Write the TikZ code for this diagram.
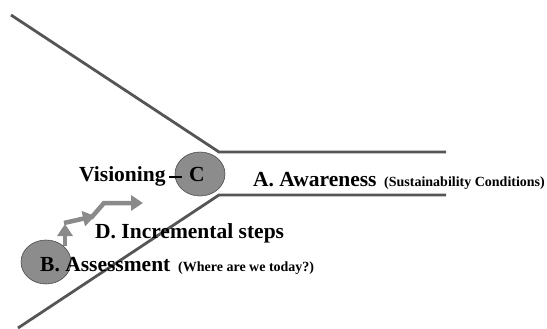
\documentclass[tikz,border=0pt]{standalone}
\usepackage{fontspec}
\setmainfont{Liberation Serif}
\usetikzlibrary{shapes.geometric,arrows.meta}
\definecolor{linegray}{HTML}{555555}
\definecolor{circgray}{HTML}{8C8C8C}
\definecolor{arrgray}{HTML}{8A8A8A}
\tikzset{
  funnel/.style={draw=linegray, line width=2.8pt},
  blob/.style={ellipse, fill=circgray, draw=black!70, line width=0.6pt, minimum width=50pt, minimum height=44pt, inner sep=0pt},
  bigtxt/.style={anchor=base west, inner sep=0pt, font=\bfseries\fontsize{21.5}{24}\selectfont},
  smalltxt/.style={anchor=base west, inner sep=0pt, font=\bfseries\fontsize{14}{16}\selectfont},
  steparrow/.style={draw=arrgray, line width=4.5pt, -{Triangle[width=15pt,length=12pt]}},
}
\begin{document}
\begin{tikzpicture}[x=1pt,y=-1pt]
\useasboundingbox (0,0) rectangle (547,329);
% funnel lines
\coordinate (u0) at (11,15);
\coordinate (u1) at (219,152);
\coordinate (u2) at (446,152);
\coordinate (l0) at (18,328);
\coordinate (l1) at (219,195);
\coordinate (l2) at (446,195);
\draw[funnel] (u0) -- (u1) -- (u2);
\draw[funnel] (l0) -- (l1) -- (l2);
% circles
\node[blob] (Cc) at (200,174) {};
\node[blob] (Bc) at (46,262) {};
% step arrows
\coordinate (a0) at (65,246);
\coordinate (a1) at (65,224);
\coordinate (b0) at (64,223);
\coordinate (b1) at (95,216);
\coordinate (c0) at (91,218);
\coordinate (c1) at (104,203);
\coordinate (c2) at (143,203);
\draw[steparrow] (a0) -- (a1);
\draw[steparrow] (b0) -- (b1);
\draw[steparrow] (c0) -- (c1) -- (c2);
% texts
\node[bigtxt] (vis) at (79,182) {Visioning};
\coordinate (d0) at (169,177);
\coordinate (d1) at (182,177);
\draw[black, line width=2.5pt] (d0) -- (d1);
\node[bigtxt] (C) at (189,182) {C};
\node[bigtxt] (A) at (253,186) {A. Awareness};
\node[smalltxt] (As) at (384,186) {(Sustainability Conditions)};
\node[bigtxt] (D) at (95,238) {D. Incremental steps};
\node[bigtxt] (B) at (40,271) {B. Assessment};
\node[smalltxt] (Bs) at (178,271) {(Where are we today?)};
\end{tikzpicture}
\end{document}
